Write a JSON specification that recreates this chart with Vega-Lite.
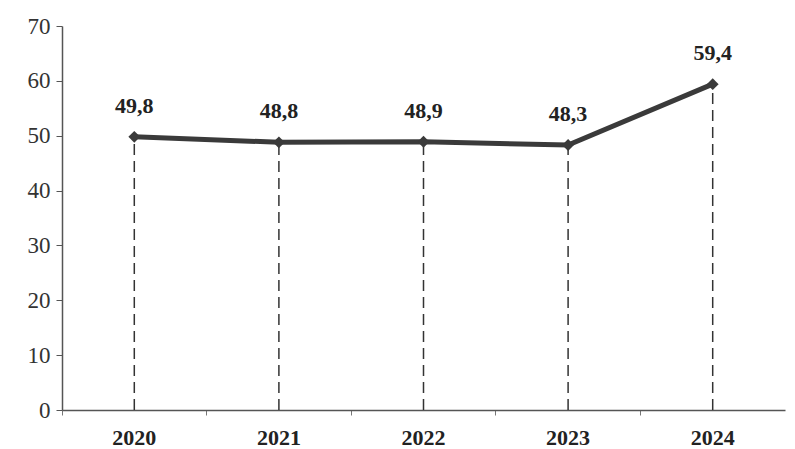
{
  "$schema": "https://vega.github.io/schema/vega-lite/v6.json",
  "width": 723,
  "height": 384,
  "autosize": {"type": "none"},
  "padding": {"left": 62, "top": 26, "right": 10, "bottom": 39},
  "background": "white",
  "config": {"view": {"stroke": null}, "font": "Liberation Serif"},
  "data": {"values": [
    {"year": "2020", "value": 49.8, "label": "49,8"},
    {"year": "2021", "value": 48.8, "label": "48,8"},
    {"year": "2022", "value": 48.9, "label": "48,9"},
    {"year": "2023", "value": 48.3, "label": "48,3"},
    {"year": "2024", "value": 59.4, "label": "59,4"}
  ]},
  "encoding": {
    "x": {"field": "year", "type": "ordinal", "scale": {"type": "band", "paddingInner": 0, "paddingOuter": 0},
      "axis": {"title": null, "labelAngle": 0, "bandPosition": 0, "labelFont": "Liberation Serif", "labelFontWeight": "bold", "labelFontSize": 22, "labelColor": "#222", "labelPadding": 12, "domainColor": "#555", "domainWidth": 1.5, "tickColor": "#777", "tickSize": 5, "labelBaseline": "top"}},
    "y": {"field": "value", "type": "quantitative", "scale": {"domain": [0, 70]},
      "axis": {"title": null, "values": [0,10,20,30,40,50,60,70], "grid": false, "labelFont": "Liberation Serif", "labelFontSize": 23, "labelColor": "#333", "labelPadding": 6, "domainColor": "#555", "domainWidth": 1.5, "tickColor": "#555", "tickSize": 6}}
  },
  "layer": [
    {"mark": {"type": "rule", "strokeDash": [11, 6], "color": "#333", "strokeWidth": 1.5},
     "encoding": {"y": {"datum": 0}, "y2": {"field": "value"}}},
    {"mark": {"type": "line", "color": "#3a3a3a", "strokeWidth": 5}},
    {"mark": {"type": "point", "shape": "diamond", "filled": true, "color": "#3a3a3a", "size": 140, "opacity": 1}},
    {"mark": {"type": "text", "dy": -31, "font": "Liberation Serif", "fontWeight": "bold", "fontSize": 22, "color": "#222"},
     "encoding": {"text": {"field": "label"}}}
  ]
}
